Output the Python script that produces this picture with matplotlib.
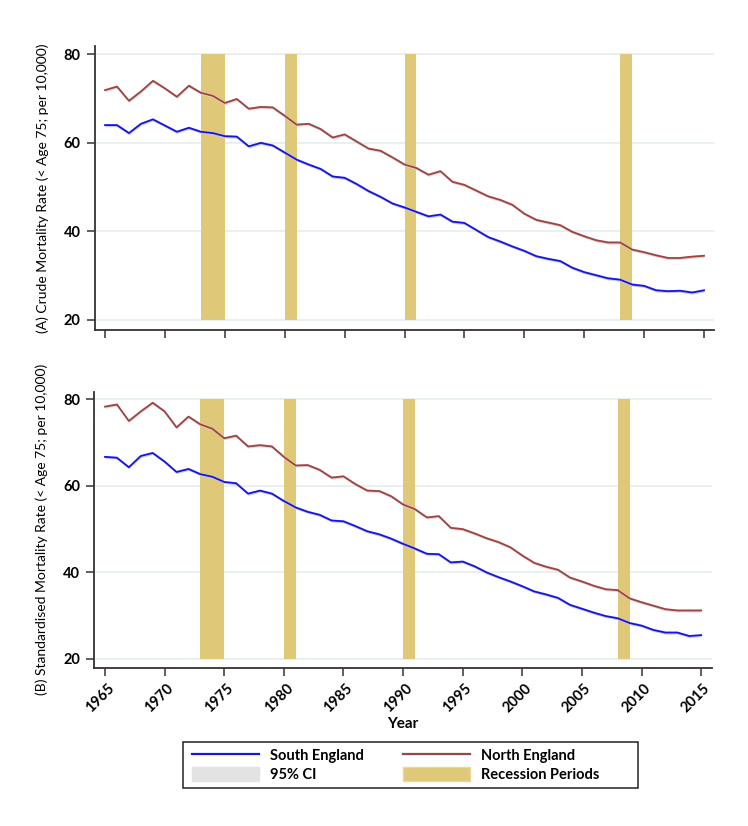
import matplotlib
matplotlib.use("Agg")
import matplotlib.pyplot as plt
import matplotlib.transforms as mtransforms
from matplotlib.lines import Line2D
from matplotlib.patches import Patch, Rectangle
import numpy as np

plt.rcParams['font.family'] = ['Lato', 'DejaVu Sans']

years = list(range(1965, 2016))

crude_north = [71.9, 72.7, 69.5, 71.6, 74.0, 72.3, 70.4, 72.9, 71.3, 70.6,
               69.0, 69.9, 67.7, 68.1, 68.0, 66.1, 64.1, 64.3, 63.1, 61.2,
               61.9, 60.3, 58.7, 58.2, 56.7, 55.1, 54.3, 52.8, 53.6, 51.2,
               50.5, 49.2, 47.9, 47.1, 46.0, 44.0, 42.6, 42.0, 41.4, 39.9,
               38.9, 38.0, 37.5, 37.5, 35.9, 35.3, 34.6, 34.0, 34.0, 34.3,
               34.5]
crude_south = [64.0, 64.0, 62.2, 64.3, 65.3, 63.9, 62.5, 63.4, 62.5, 62.2,
               61.5, 61.4, 59.2, 60.0, 59.4, 57.8, 56.2, 55.1, 54.1, 52.4,
               52.1, 50.7, 49.1, 47.8, 46.3, 45.4, 44.4, 43.4, 43.8, 42.2,
               41.9, 40.3, 38.7, 37.7, 36.6, 35.6, 34.4, 33.8, 33.3, 31.8,
               30.8, 30.1, 29.4, 29.1, 28.0, 27.7, 26.7, 26.5, 26.6, 26.2,
               26.7]
std_north = [78.3, 78.8, 75.0, 77.2, 79.2, 77.2, 73.5, 76.0, 74.2, 73.2,
             71.0, 71.6, 69.1, 69.4, 69.1, 66.7, 64.7, 64.8, 63.7, 61.9,
             62.2, 60.4, 58.9, 58.8, 57.6, 55.7, 54.6, 52.7, 53.0, 50.3,
             50.0, 49.0, 47.9, 47.0, 45.8, 43.9, 42.2, 41.3, 40.6, 38.8,
             37.9, 36.9, 36.1, 35.9, 34.0, 33.1, 32.3, 31.5, 31.2, 31.2,
             31.2]
std_south = [66.7, 66.5, 64.3, 66.9, 67.6, 65.6, 63.2, 63.9, 62.7, 62.1,
             60.9, 60.6, 58.2, 58.9, 58.2, 56.5, 55.0, 54.0, 53.3, 52.0,
             51.8, 50.7, 49.5, 48.8, 47.8, 46.6, 45.5, 44.3, 44.2, 42.3,
             42.5, 41.4, 40.0, 38.9, 37.9, 36.8, 35.6, 34.9, 34.1, 32.5,
             31.6, 30.7, 29.9, 29.4, 28.3, 27.7, 26.7, 26.1, 26.1, 25.3,
             25.5]
ci_half = 0.35

recessions = [(1973, 1975), (1980, 1981), (1990, 1991), (2008, 2009)]
rec_low, rec_high = 20, 80

yticks = [20, 40, 60, 80]
xticks = list(range(1965, 2016, 5))

south_color = '#1515dd'
north_color = '#9a4444'
band_color = '#dfc878'
grid_color = '#e8f0f2'
spine_color = '#333333'

W, H = 748, 826
fig = plt.figure(figsize=(W / 100, H / 100), dpi=100)
ax1 = fig.add_axes([0.1266, 0.6005, 0.8279, 0.3442])
ax2 = fig.add_axes([0.1257, 0.1917, 0.8263, 0.3341])

panels = [
    (ax1, crude_south, crude_north, '(A) Crude Mortality Rate (< Age 75; per 10,000)', (17.74, 81.94), (1964.14, 2015.83)),
    (ax2, std_south, std_north, '(B) Standardised Mortality Rate (< Age 75; per 10,000)', (17.99, 81.76), (1964.08, 2015.92)),
]

for ax, south, north, ylabel, ylim, xlim in panels:
    for y in yticks:
        ax.axhline(y, color=grid_color, lw=1.4, zorder=0)
    for a, b in recessions:
        ax.fill_between([a, b], rec_low, rec_high, color=band_color, lw=0, zorder=1)
    s = np.array(south)
    n = np.array(north)
    ax.fill_between(years, s - ci_half, s + ci_half, color='#c8c8f4', lw=0, zorder=2)
    ax.fill_between(years, n - ci_half, n + ci_half, color='#ecd0d0', lw=0, zorder=2)
    ax.plot(years, south, color=south_color, lw=1.3, zorder=3)
    ax.plot(years, north, color=north_color, lw=1.3, zorder=3)
    ax.set_xlim(*xlim)
    ax.set_ylim(*ylim)
    ax.set_yticks(yticks)
    ax.set_xticks(xticks)
    for sp in ['top', 'right']:
        ax.spines[sp].set_visible(False)
    for sp in ['left', 'bottom']:
        ax.spines[sp].set_color(spine_color)
        ax.spines[sp].set_linewidth(1.3)
    ax.tick_params(axis='both', direction='out', length=6, width=1.1, color=spine_color,
                   labelsize=10.5, pad=4)
    for lab in ax.get_yticklabels():
        lab.set_fontweight('bold')
    ax.set_ylabel(ylabel, fontsize=10)
    ax.yaxis.set_label_coords(-0.074, 0.5)

ax1.tick_params(axis='x', labelbottom=False)
offset = mtransforms.ScaledTranslation(-5 / 100, 0, fig.dpi_scale_trans)
for lab in ax2.get_xticklabels():
    lab.set_rotation(45)
    lab.set_ha('center')
    lab.set_va('top')
    lab.set_fontweight('bold')
    lab.set_transform(lab.get_transform() + offset)
ax2.set_xlabel('Year', fontsize=11, fontweight='bold', labelpad=1)

# legend frame (drawn separately to match the wide box)
fig.patches.append(Rectangle((183 / W, 1 - 788 / H), (638 - 183) / W, (788 - 742) / H,
                             transform=fig.transFigure, facecolor='white',
                             edgecolor='#222222', lw=1.1, zorder=0))

handles = [
    Line2D([], [], color=south_color, lw=1.6),
    Line2D([], [], color=north_color, lw=1.6),
    Patch(facecolor='#e3e3e3', edgecolor='#e3e3e3'),
    Patch(facecolor=band_color, edgecolor='#ead79a'),
]
labels_ = ['South England', 'North England', '95% CI', 'Recession Periods']
order = [0, 2, 1, 3]
leg = fig.legend([handles[i] for i in order], [labels_[i] for i in order],
                 ncol=2, loc='upper left', bbox_to_anchor=(192 / W, 1 - 748 / H),
                 frameon=False, prop={'weight': 'bold', 'size': 10.5},
                 handlelength=4.6, handleheight=1.1, handletextpad=0.75,
                 columnspacing=2.7, labelspacing=0.3, borderpad=0.0,
                 borderaxespad=0.0)

fig.savefig('out.png', dpi=100)
